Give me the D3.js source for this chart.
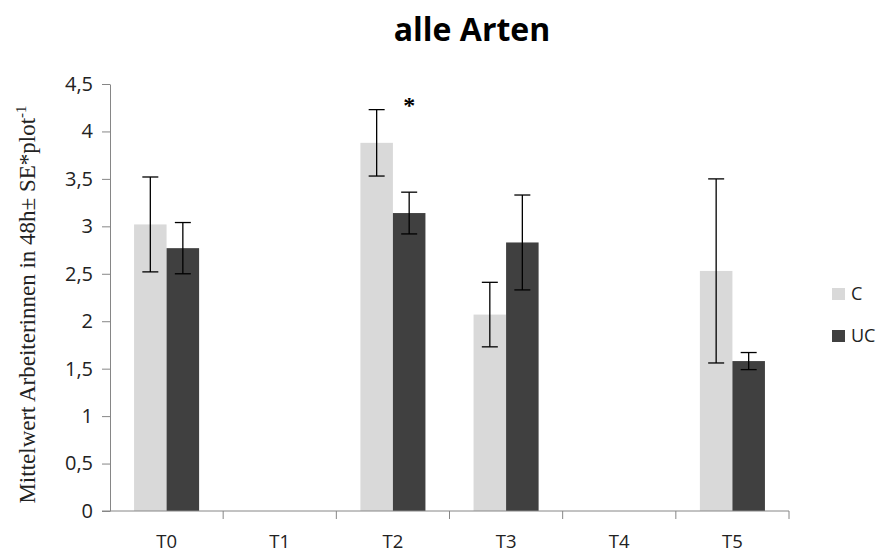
<!DOCTYPE html>
<html>
<head>
<meta charset="utf-8">
<script src="https://cdn.jsdelivr.net/npm/d3@7"></script>
<style>
  html, body { margin: 0; padding: 0; background: #fff; }
  svg { display: block; }
</style>
</head>
<body>
<script>
// Mean number of workers per plot in 48h, C vs UC, per sampling date
const categories = ["T0", "T1", "T2", "T3", "T4", "T5"];
const seriesNames = ["C", "UC"];
const meanC  = [3.02, null, 3.88, 2.07, null, 2.53];
const meanUC = [2.77, null, 3.14, 2.83, null, 1.58];
const seC    = [0.50, null, 0.35, 0.34, null, 0.97];
const seUC   = [0.27, null, 0.22, 0.50, null, 0.09];
const yTicks = [0, 0.5, 1, 1.5, 2, 2.5, 3, 3.5, 4, 4.5];
const significant = ["T2"];

const W = 882, H = 554;
const margin = { left: 110, right: 93, top: 84, bottom: 43 };
const colors = { C: "#d9d9d9", UC: "#404040" };

const svg = d3.select("body").append("svg").attr("width", W).attr("height", H);

const x = d3.scaleBand().domain(categories)
  .range([margin.left, W - margin.right]).paddingInner(0).paddingOuter(0);
const xInner = d3.scaleBand().domain(seriesNames)
  .range([0, x.bandwidth()]).paddingInner(0).paddingOuter(0.74);
const y = d3.scaleLinear().domain([0, 4.5]).range([H - margin.bottom, margin.top]);

const fmt = d => String(d).replace(".", ",");

// Title
svg.append("text").attr("x", 472).attr("y", 41).attr("text-anchor", "middle")
  .attr("font-family", "'Open Sans', sans-serif").attr("font-weight", "bold")
  .attr("font-size", 32).attr("fill", "#000").text("alle Arten");

// Bars
const rows = categories.map((c, i) => ({
  cat: c,
  vals: [
    { s: "C", v: meanC[i], e: seC[i] },
    { s: "UC", v: meanUC[i], e: seUC[i] }
  ]
}));

const groups = svg.append("g").selectAll("g").data(rows).join("g")
  .attr("transform", d => `translate(${x(d.cat)},0)`);

groups.selectAll("rect").data(d => d.vals.filter(v => v.v != null)).join("rect")
  .attr("x", d => xInner(d.s))
  .attr("width", xInner.bandwidth())
  .attr("y", d => y(d.v))
  .attr("height", d => y(0) - y(d.v))
  .attr("fill", d => colors[d.s]);

// Error bars
const eb = groups.selectAll("g.err").data(d => d.vals.filter(v => v.v != null)).join("g")
  .attr("class", "err")
  .attr("transform", d => `translate(${xInner(d.s) + xInner.bandwidth() / 2},0)`)
  .attr("stroke", "#000").attr("stroke-width", 1.3);
eb.append("line").attr("x1", 0).attr("x2", 0)
  .attr("y1", d => y(d.v + d.e)).attr("y2", d => y(d.v - d.e));
eb.append("line").attr("x1", -8).attr("x2", 8)
  .attr("y1", d => y(d.v + d.e)).attr("y2", d => y(d.v + d.e));
eb.append("line").attr("x1", -8).attr("x2", 8)
  .attr("y1", d => y(d.v - d.e)).attr("y2", d => y(d.v - d.e));

// Significance marker
significant.forEach(c => {
  const i = categories.indexOf(c);
  svg.append("text")
    .attr("x", x(c) + xInner("UC") + xInner.bandwidth() / 2)
    .attr("y", y(meanUC[i] + seUC[i]) - 79)
    .attr("text-anchor", "middle")
    .attr("font-family", "'Liberation Serif', serif").attr("font-weight", "bold")
    .attr("font-size", 24).attr("fill", "#000").text("*");
});

// Y axis
const yAxis = d3.axisLeft(y).tickValues(yTicks).tickFormat(fmt).tickSize(8).tickSizeOuter(0);
const gy = svg.append("g").attr("transform", `translate(${margin.left},0)`).call(yAxis);
gy.select(".domain").attr("stroke", "#868686");
gy.selectAll(".tick line").attr("stroke", "#868686");
gy.selectAll(".tick text").attr("x", -17)
  .attr("font-family", "'Open Sans', sans-serif").attr("font-size", 20).attr("fill", "#222");

// X axis
const gx = svg.append("g").attr("transform", `translate(0,${y(0)})`);
gx.append("line").attr("x1", margin.left - 8).attr("x2", W - margin.right)
  .attr("stroke", "#868686");
gx.selectAll("line.tk").data(categories).join("line").attr("class", "tk")
  .attr("x1", d => x(d) + x.bandwidth()).attr("x2", d => x(d) + x.bandwidth())
  .attr("y1", 0).attr("y2", 8).attr("stroke", "#868686");
gx.selectAll("text").data(categories).join("text")
  .attr("x", d => x(d) + x.bandwidth() / 2).attr("y", 37)
  .attr("text-anchor", "middle")
  .attr("font-family", "'Open Sans', sans-serif").attr("font-size", 18.5).attr("fill", "#222")
  .text(d => d);

// Y axis title
const yt = svg.append("text")
  .attr("transform", `translate(35,${(y(0) + y(4.5)) / 2 + 7}) rotate(-90)`)
  .attr("text-anchor", "middle")
  .attr("font-family", "'Liberation Serif', serif").attr("font-size", 23).attr("fill", "#222");
yt.append("tspan").text("Mittelwert Arbeiterinnen in 48h± SE*plot");
yt.append("tspan").attr("dy", -9).attr("font-size", 15).text("-1");

// Legend
const lg = svg.append("g").attr("transform", "translate(832,288)");
seriesNames.forEach((s, i) => {
  lg.append("rect").attr("x", 0).attr("y", i * 42).attr("width", 13).attr("height", 12)
    .attr("fill", colors[s]);
  lg.append("text").attr("x", 19).attr("y", i * 42 + 12)
    .attr("font-family", "'Open Sans', sans-serif").attr("font-size", 18).attr("fill", "#222")
    .text(s);
});
</script>
</body>
</html>
